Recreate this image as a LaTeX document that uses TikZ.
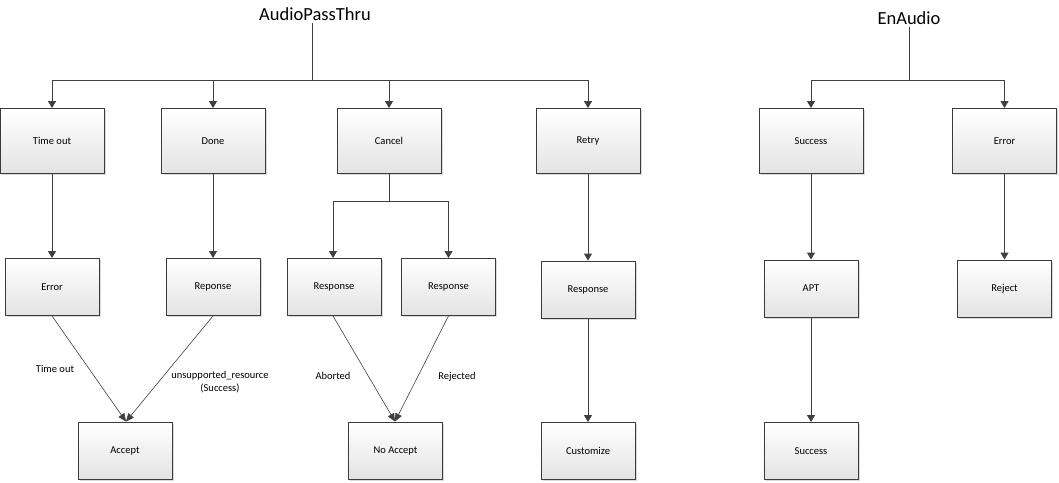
\documentclass[tikz,border=0pt]{standalone}
\usepackage{fontspec}
\setmainfont{Carlito}
\usetikzlibrary{arrows.meta,shadows}
\definecolor{ln}{HTML}{404040}
\definecolor{bd}{HTML}{3A3A3A}
\tikzset{
  box/.style={draw=bd, line width=0.9pt, top color=white, bottom color=black!11,
    drop shadow={shadow xshift=1.6pt, shadow yshift=-1.6pt, opacity=0.35, fill=black!40},
    font=\fontsize{10.5}{12}\selectfont, inner sep=0pt},
  bigbox/.style={box, minimum width=104pt, minimum height=65pt},
  smallbox/.style={box, minimum width=94pt, minimum height=57pt},
  conn/.style={draw=ln, line width=0.9pt, -{Triangle[width=8pt,length=7pt]}},
  diag/.style={draw=ln, line width=0.6pt, -{Triangle[width=7pt,length=8pt]}},
  lbl/.style={font=\fontsize{10.5}{12.5}\selectfont, align=center, inner sep=0pt},
  ttl/.style={font=\fontsize{18.5}{20}\selectfont, inner sep=0pt}
}
\begin{document}
\begin{tikzpicture}[x=1pt,y=-1pt]
\useasboundingbox (0,0) rectangle (1059,482);
% titles
\node[ttl] (ap) at (315,14) {AudioPassThru};
\node[ttl] (en) at (909,18) {EnAudio};
\coordinate (apbus) at (312,80);
\coordinate (enbus) at (909,80);
% top row
\node[bigbox] (timeout) at (52,141) {Time out};
\node[bigbox] (done) at (213,141) {Done};
\node[bigbox] (cancel) at (389,141) {Cancel};
\node[bigbox] (retry) at (588,141) {Retry};
\node[bigbox] (succ) at (811,141) {Success};
\node[bigbox] (err) at (1004.5,141) {Error};
% middle row
\node[smallbox] (error) at (52,287) {Error};
\node[smallbox] (reponse) at (213,287) {Reponse};
\node[smallbox] (resp1) at (334,287) {Response};
\node[smallbox] (resp2) at (448.5,287) {Response};
\node[smallbox] (resp3) at (588,289.5) {Response};
\node[smallbox] (apt) at (811,288.5) {APT};
\node[smallbox] (reject) at (1004.5,288.5) {Reject};
% bottom row
\node[smallbox] (accept) at (125,451) {Accept};
\node[smallbox] (noacc) at (395.5,451) {No Accept};
\node[smallbox] (custom) at (588,451) {Customize};
\node[smallbox] (succ2) at (811,451) {Success};
% title connectors
\draw[draw=ln, line width=0.9pt] (ap.south -| apbus) ++(0,2) -- (apbus);
\draw[draw=ln, line width=0.9pt] (en.south) ++(0,2) -- (enbus);
\draw[conn] (apbus) -| (timeout.north);
\draw[conn] (apbus) -| (done.north);
\draw[conn] (apbus) -| (cancel.north);
\draw[conn] (apbus) -| (retry.north);
\draw[conn] (enbus) -| (succ.north);
\draw[conn] (enbus) -| (err.north);
% verticals
\draw[conn] (timeout) -- (error);
\draw[conn] (done) -- (reponse);
\draw[conn] (retry) -- (resp3);
\draw[conn] (resp3) -- (custom);
\draw[conn] (succ) -- (apt);
\draw[conn] (apt) -- (succ2);
\draw[conn] (err) -- (reject);
% cancel split
\coordinate (split) at (389,201);
\draw[draw=ln, line width=0.9pt] (cancel.south) -- (split);
\draw[conn] (split) -| ([xshift=-1pt]resp1.north);
\draw[conn] (split) -| (resp2.north);
% diagonals
\coordinate (acctop) at (126,421.5);
\coordinate (natop) at (395,421.5);
\draw[diag] (error.south) -- (acctop);
\draw[diag] (reponse.south) -- (acctop);
\draw[diag] ([xshift=-1pt]resp1.south) -- (natop);
\draw[diag] (resp2.south) -- (natop);
% labels
\node[lbl] (l1) at (55,369) {Time out};
\node[lbl] (l2) at (220,382) {unsupported\_resource\\(Success)};
\node[lbl] (l3) at (333,376) {Aborted};
\node[lbl] (l4) at (457,377) {Rejected};
\end{tikzpicture}
\end{document}
